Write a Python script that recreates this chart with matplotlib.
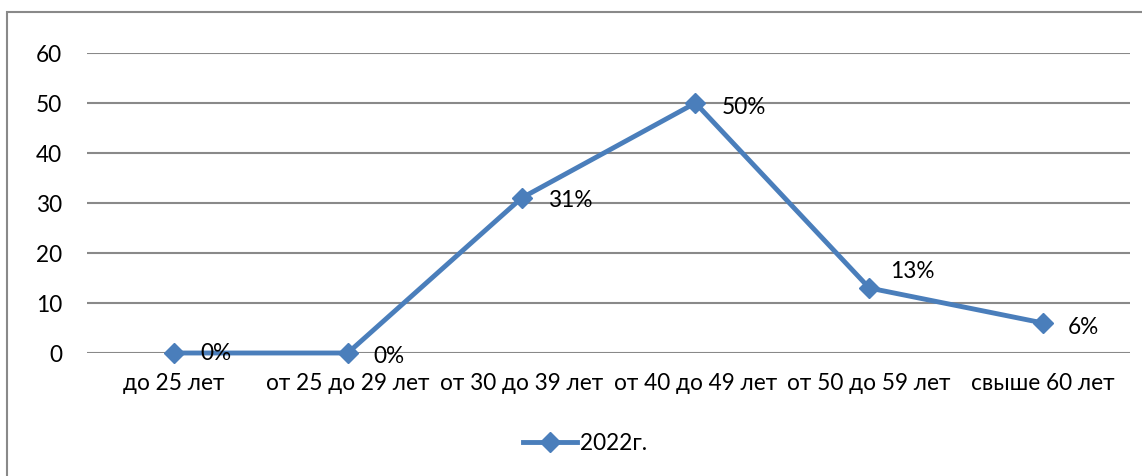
import matplotlib
matplotlib.use("Agg")
import matplotlib.pyplot as plt
from matplotlib.patches import Rectangle
from matplotlib.lines import Line2D

categories = ["до 25 лет", "от 25 до 29 лет", "от 30 до 39 лет", "от 40 до 49 лет", "от 50 до 59 лет", "свыше 60 лет"]
values = [0, 0, 31, 50, 13, 6]
labels = ["0%", "0%", "31%", "50%", "13%", "6%"]
series_name = "2022г."
yticks = [0, 10, 20, 30, 40, 50, 60]

# label offsets (pixels) - style
label_offsets = [(26, 0), (26, -3), (26, -2), (26, -3), (21, 17), (25, -4)]

plt.rcParams['font.family'] = ['Lato', 'DejaVu Sans']
W, H = 1142, 477
FS = 16.3
fig = plt.figure(figsize=(W / 100, H / 100), dpi=100)
ax = fig.add_axes([87 / W, 1 - 354 / H, (1130 - 87) / W, 300 / H])

color = "#4A7EBB"
grid_c = "#898989"
x = [i + 0.5 for i in range(len(categories))]
ax.plot(x, values, color=color, lw=3.5, marker="D", ms=10, mec=color, mfc=color, zorder=3, clip_on=False)
for xi, v, lab, off in zip(x, values, labels, label_offsets):
    ax.annotate(lab, (xi, v), xytext=(off[0] * 0.72, off[1] * 0.72), textcoords="offset points",
                ha="left", va="center", fontsize=FS, color="black", zorder=4)

ax.set_xlim(0, len(categories))
ax.set_ylim(0, 60)
ax.set_yticks(yticks)
ax.set_yticklabels([str(t) for t in yticks], fontsize=FS)
ax.set_xticks(x)
ax.set_xticklabels(categories, fontsize=FS)
ax.tick_params(axis="both", length=0)
ax.tick_params(axis="y", pad=18)
ax.tick_params(axis="x", pad=14)
for s in ax.spines.values():
    s.set_visible(False)
ax.yaxis.grid(True, color=grid_c, lw=1.5)
ax.set_axisbelow(True)

handle = Line2D([], [], color=color, lw=3.5, marker="D", ms=10, mec=color, mfc=color)
fig.legend([handle], [series_name], loc="center", bbox_to_anchor=(585 / W, 1 - 444 / H),
           frameon=False, fontsize=FS, handlelength=2.4, handletextpad=0.1)

fig.patches.append(Rectangle((7 / W, -0.1), 1.2, 1 - 13 / H + 0.1, transform=fig.transFigure,
                             fill=False, ec=grid_c, lw=1.5))
fig.savefig("out.png", dpi=100)
